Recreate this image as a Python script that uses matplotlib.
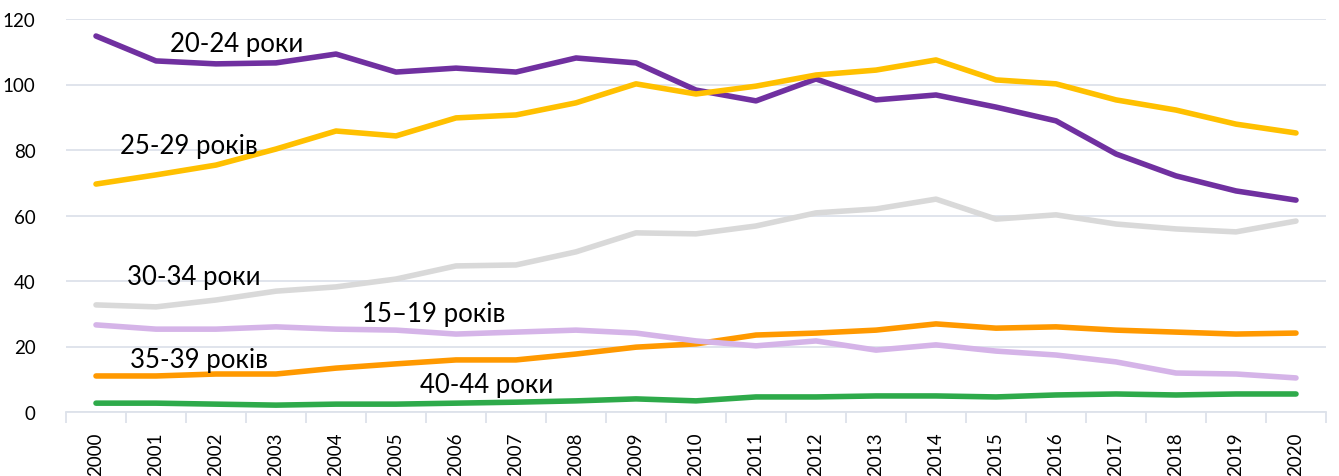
import matplotlib
matplotlib.use("Agg")
import matplotlib.pyplot as plt
from matplotlib.ticker import FixedLocator

years = list(range(2000, 2021))

age_15_19 = [11.0, 11.0, 11.6, 11.6, 13.4, 14.7, 15.9, 15.9, 17.7, 19.8, 20.8,
             23.5, 24.1, 25.0, 26.9, 25.6, 26.0, 25.0, 24.4, 23.8, 24.1]
age_20_24 = [114.8, 107.2, 106.3, 106.6, 109.3, 103.8, 105.0, 103.8, 108.1, 106.6, 98.3,
             95.0, 101.7, 95.3, 96.8, 93.1, 88.9, 78.8, 72.1, 67.5, 64.7]
age_25_29 = [69.6, 72.4, 75.4, 80.3, 85.8, 84.3, 89.8, 90.7, 94.4, 100.2, 97.1,
             99.5, 102.9, 104.4, 107.5, 101.4, 100.2, 95.3, 92.2, 87.9, 85.2]
age_30_34 = [32.7, 32.1, 34.2, 36.9, 38.2, 40.6, 44.6, 44.9, 48.9, 54.7, 54.4,
             56.8, 60.8, 62.0, 65.0, 58.9, 60.2, 57.4, 55.9, 55.0, 58.3]
age_35_39 = [26.6, 25.3, 25.3, 26.0, 25.3, 25.0, 23.8, 24.4, 25.0, 24.1, 21.7,
             20.2, 21.7, 18.9, 20.5, 18.6, 17.4, 15.3, 11.9, 11.6, 10.4]
age_40_44 = [2.7, 2.7, 2.4, 2.1, 2.4, 2.4, 2.7, 3.0, 3.4, 4.0, 3.4,
             4.6, 4.6, 4.9, 4.9, 4.6, 5.2, 5.5, 5.2, 5.5, 5.5]

plt.rcParams['font.family'] = ['Lato', 'DejaVu Sans']

fig = plt.figure(figsize=(13.39, 4.77), dpi=100)
ax = fig.add_axes([66 / 1339, 1 - 413 / 477, (1326 - 66) / 1339, (413 - 20) / 477])

x = list(range(len(years)))
lw = 4.0
ax.plot(x, age_15_19, color="#FF9900", lw=lw, solid_capstyle="round")
ax.plot(x, age_20_24, color="#7030A0", lw=lw, solid_capstyle="round")
ax.plot(x, age_25_29, color="#FFC000", lw=lw, solid_capstyle="round")
ax.plot(x, age_30_34, color="#D9D9D9", lw=lw, solid_capstyle="round")
ax.plot(x, age_35_39, color="#D5B4E8", lw=lw, solid_capstyle="round")
ax.plot(x, age_40_44, color="#2EAA4A", lw=lw, solid_capstyle="round")

# series labels
lab = dict(fontsize=18.5, color="black", va="center", ha="left")
ax.text(1.23, 112.5, "20-24 роки", **lab)
ax.text(0.4, 81.5, "25-29 років", **lab)
ax.text(0.51, 41.5, "30-34 роки", **lab)
ax.text(4.43, 30, "15–19 років", **lab)
ax.text(0.56, 16, "35-39 років", **lab)
ax.text(5.4, 8.3, "40-44 роки", **lab)

ax.set_xlim(-0.5, len(years) - 0.5)
ax.set_ylim(0, 120)
ax.set_yticks(range(0, 121, 20))
ax.grid(axis="y", color="#DDE2EA", lw=1.3)
ax.set_axisbelow(True)

ax.set_xticks(x)
ax.set_xticklabels([str(y) for y in years], rotation=90, fontsize=13.5)
ax.xaxis.set_minor_locator(FixedLocator([i - 0.5 for i in range(len(years) + 1)]))
ax.tick_params(axis="x", which="major", length=0, pad=14)
ax.tick_params(axis="x", which="minor", length=8, color="#DDE2EA", width=1.3)
ax.tick_params(axis="y", length=0, labelsize=13.5, pad=22)

for s in ["top", "right", "left"]:
    ax.spines[s].set_visible(False)
ax.spines["bottom"].set_color("#DDE2EA")
ax.spines["bottom"].set_linewidth(1.3)

fig.savefig("out.png", dpi=100)
